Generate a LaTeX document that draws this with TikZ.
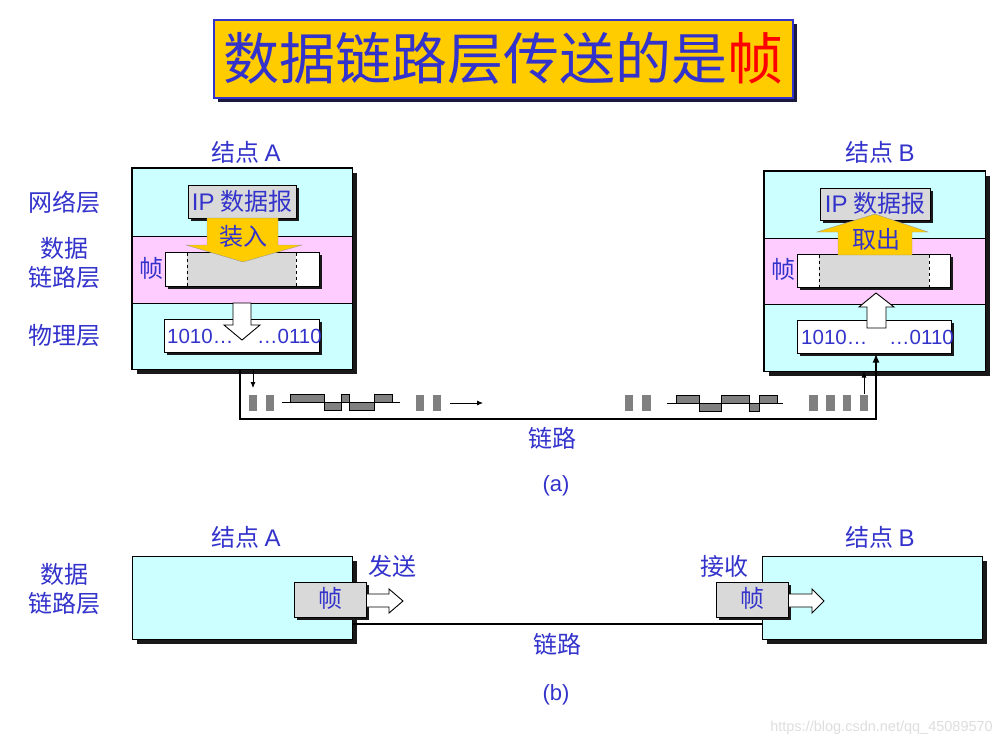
\documentclass[tikz,border=0pt]{standalone}
\usepackage{fontspec}
\setmainfont{Liberation Sans}
\newfontfamily\cjk{Noto Sans CJK SC}
\usetikzlibrary{shadows,arrows.meta}
\definecolor{txt}{HTML}{3333CC}
\definecolor{cyanc}{HTML}{CCFFFF}
\definecolor{pinkc}{HTML}{FFCCFF}
\definecolor{grayc}{HTML}{D9D9D9}
\definecolor{yelc}{HTML}{FFCC00}
\definecolor{bitc}{HTML}{808080}
\definecolor{navy}{HTML}{1A1A40}
\tikzset{
  lbl/.style={text=txt,font=\cjk\fontsize{24}{27}\selectfont,inner sep=0pt,align=center},
  bigshd/.style={drop shadow={shadow xshift=5pt,shadow yshift=-5pt,fill=black!90,opacity=1}},
  smshd/.style={drop shadow={shadow xshift=3pt,shadow yshift=-3pt,fill=black!90,opacity=1}},
  nodebox/.style={draw=black,line width=1pt,fill=cyanc,bigshd,inner sep=0pt},
  graybox/.style={draw=black,line width=1pt,fill=grayc,smshd,inner sep=0pt},
  whitebox/.style={draw=black,line width=1pt,fill=white,smshd,inner sep=0pt},
  bit/.style={fill=bitc},
  wave/.style={draw=black,line width=0.8pt,fill=bitc},
  link/.style={draw=black,line width=2.8pt},
  thinarr/.style={draw=black,line width=0.8pt,-{Latex[length=6pt,width=5pt]}},
  arrw/.style={draw=black,line width=0.9pt,fill=white},
  arry/.style={draw=black!40,line width=0.4pt,fill=yelc},
  num/.style={text=txt,font=\fontsize{20.5}{22}\selectfont,inner sep=0pt},
}
\begin{document}
\begin{tikzpicture}[x=1pt,y=-1pt]
\useasboundingbox[fill=white] (0,0) rectangle (1004,748);

% title
\node[draw=txt,line width=1.5pt,fill=yelc,minimum width=579pt,minimum height=78pt,inner sep=0pt,
  drop shadow={shadow xshift=4pt,shadow yshift=-4pt,fill=navy,opacity=1}] (title) at (503.5,59) {};
\node[font=\cjk\fontsize{56}{60}\selectfont,text=txt,inner sep=0pt] (titletxt) at (503.5,58) {数据链路层传送的是\textcolor{red}{帧}};

% ---------- (a) ----------
\node[lbl] (nAl) at (246,152) {结点 {\fontspec{Liberation Sans}A}};
\node[lbl] (nBl) at (880,152) {结点 {\fontspec{Liberation Sans}B}};
\node[lbl] (l1) at (64,202) {网络层};
\node[lbl] (l2) at (64,263) {数据\\[2pt]链路层};
\node[lbl] (l3) at (64,335) {物理层};

% node A
\node[nodebox,minimum width=220pt,minimum height=201pt] (NA) at (242,268.5) {};
\draw[line width=1pt,fill=pinkc] (132,236) rectangle (352,303);
\draw[line width=1pt] (NA.north west) rectangle (NA.south east);
% frame A
\node[whitebox,minimum width=154pt,minimum height=34pt] (FA) at (242,269) {};
\fill[grayc] (187,252.5) rectangle (296,285.5);
\draw[dashed,line width=0.8pt] (187,252.5) -- (187,285.5) (296,252.5) -- (296,285.5);
\node[lbl] (fa) at (151,268) {帧};
% IP box A
\node[graybox,minimum width=108pt,minimum height=33pt] (IPA) at (242,201.5) {};
\node[lbl] (ipa) at (242,201) {{\fontspec{Liberation Sans}IP} 数据报};
% yellow arrow A
\path[arry] (207,218) -- (278,218) -- (278,245) -- (302,245) -- (243,262) -- (186,245) -- (207,245) -- cycle;
\node[lbl] (za) at (243,236) {装入};
% 1010 box A
\node[whitebox,minimum width=155pt,minimum height=33pt] (PA) at (241.5,335.5) {};
\path[arrw] (233,303) -- (251,303) -- (251,325) -- (260,325) -- (242,340) -- (224,325) -- (233,325) -- cycle;
\node[num,anchor=west] (pa1) at (167,336) {1010…};
\node[num,anchor=east] (pa2) at (322,336) {…0110};

% node B
\node[nodebox,minimum width=221pt,minimum height=200pt] (NB) at (874.5,271) {};
\draw[line width=1pt,fill=pinkc] (764,238) rectangle (985,304);
\draw[line width=1pt] (NB.north west) rectangle (NB.south east);
% frame B
\node[whitebox,minimum width=153pt,minimum height=33pt] (FB) at (873.5,270.5) {};
\fill[grayc] (819,254.5) rectangle (929,286.5);
\draw[dashed,line width=0.8pt] (819,254.5) -- (819,286.5) (929,254.5) -- (929,286.5);
\node[lbl] (fb) at (783,269) {帧};
% IP box B
\node[graybox,minimum width=110pt,minimum height=32pt] (IPB) at (875,204) {};
\node[lbl] (ipb) at (875,203) {{\fontspec{Liberation Sans}IP} 数据报};
% yellow arrow B
\path[arry] (838,255) -- (912,255) -- (912,232) -- (928,232) -- (875,214) -- (817,232) -- (838,232) -- cycle;
\node[lbl] (qb) at (876,239) {取出};
% 1010 box B
\node[whitebox,minimum width=154pt,minimum height=33pt] (PB) at (874,336.5) {};
\path[arrw] (867,328) -- (886,328) -- (886,307) -- (894,307) -- (876,293) -- (859,307) -- (867,307) -- cycle;
\node[num,anchor=west] (pb1) at (801,337) {1010…};
\node[num,anchor=east] (pb2) at (954,337) {…0110};

% link (a)
\coordinate (lx) at (240,419);
\coordinate (rx) at (876,419);
\draw[link,-{Latex[length=9pt,width=7pt]}] (NA.south -| lx) -- (lx) -- (rx) -- (rx |- PB.south);
\coordinate (ta) at (253,388);
\draw[thinarr] (NA.south -| ta) -- (ta);
\coordinate (tb) at (864,394);
\draw[thinarr] (tb) -- (tb |- NB.south);
\coordinate (m1) at (450,403);
\coordinate (m2) at (483,403);
\draw[thinarr] (m1) -- (m2);

% bits left
\fill[bit] (249,395) rectangle (257,411);
\fill[bit] (266,395) rectangle (274,411);
\draw[line width=0.8pt] (282,402) -- (400,402);
\path[wave] (290,394) rectangle (324,402);
\path[wave] (324,402) rectangle (341,410);
\path[wave] (341,394) rectangle (349,402);
\path[wave] (349,402) rectangle (374,410);
\path[wave] (374,394) rectangle (392,402);
\fill[bit] (416,395) rectangle (424,411);
\fill[bit] (433,395) rectangle (441,411);
% bits right
\fill[bit] (625,395) rectangle (633,411);
\fill[bit] (642,395) rectangle (651,411);
\draw[line width=0.8pt] (667,403) -- (783,403);
\path[wave] (676,395) rectangle (699,403);
\path[wave] (699,403) rectangle (721,411);
\path[wave] (721,395) rectangle (749,403);
\path[wave] (749,403) rectangle (759,411);
\path[wave] (759,395) rectangle (777,403);
\fill[bit] (809,395) rectangle (818,411);
\fill[bit] (826,395) rectangle (835,411);
\fill[bit] (843,395) rectangle (851,411);
\fill[bit] (860,395) rectangle (868,411);

\node[lbl] (lka) at (552,438) {链路};
\node[text=txt,font=\fontsize{22}{24}\selectfont,inner sep=0pt] (capa) at (556,486) {(a)};

% ---------- (b) ----------
\node[lbl] (nAl2) at (246,537) {结点 {\fontspec{Liberation Sans}A}};
\node[lbl] (nBl2) at (880,537) {结点 {\fontspec{Liberation Sans}B}};
\node[lbl] (l4) at (64,589) {数据\\[2pt]链路层};

\node[nodebox,minimum width=220pt,minimum height=83pt] (NA2) at (242,597.5) {};
\coordinate (ly) at (0,624);
\draw[link] (NA2.east |- ly) -- (762,624) coordinate (ry);
\node[nodebox,minimum width=220pt,minimum height=83pt] (NB2) at (872,597.5) {};

\node[graybox,minimum width=72pt,minimum height=35pt] (FA2) at (330,599.5) {};
\node[lbl] (fa2) at (330,598) {帧};
\path[arrw] (FA2.east |- 0,594) -- (389,594) -- (389,589) -- (403,601) -- (389,613) -- (389,607) -- (FA2.east |- 0,607) -- cycle;
\node[lbl] (fs) at (392,566) {发送};

\node[graybox,minimum width=72pt,minimum height=35pt] (FB2) at (752,599.5) {};
\node[lbl] (fb2) at (752,598) {帧};
\path[arrw] (FB2.east |- 0,594) -- (812,594) -- (812,589) -- (824,601) -- (812,613) -- (812,607) -- (FB2.east |- 0,607) -- cycle;
\node[lbl] (js) at (724,566) {接收};

\node[lbl] (lkb) at (557,644) {链路};
\node[text=txt,font=\fontsize{22}{24}\selectfont,inner sep=0pt] (capb) at (556,695) {(b)};

\node[text=black!13,font=\fontsize{14.5}{16}\selectfont,anchor=east,inner sep=0pt] (wm) at (993,728) {https://blog.csdn.net/qq\_45089570};
\end{tikzpicture}
\end{document}
